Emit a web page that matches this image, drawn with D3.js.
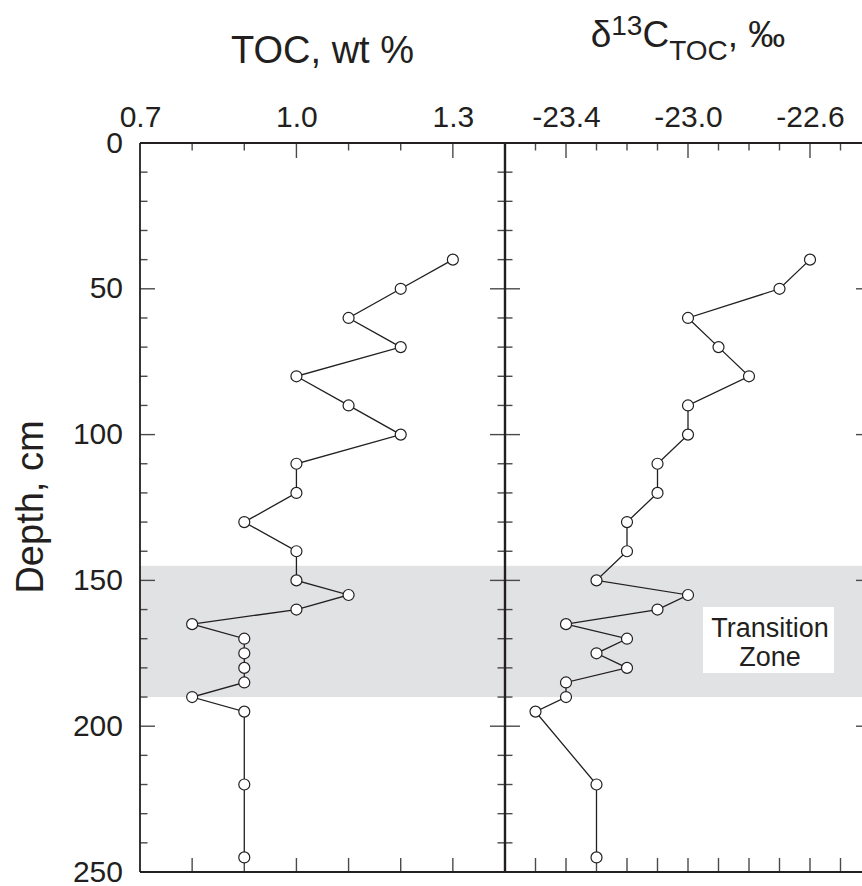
<!DOCTYPE html>
<html>
<head>
<meta charset="utf-8">
<script src="https://cdn.jsdelivr.net/npm/d3@7"></script>
<style>
  body { margin: 0; background: #fff; }
  svg { display: block; font-family: "Liberation Sans", Arial, Helvetica, sans-serif; }
</style>
</head>
<body>
<svg id="chart" width="862" height="886"></svg>
<script>
// ---- data ----
const depth = [40, 50, 60, 70, 80, 90, 100, 110, 120, 130, 140, 150, 155, 160, 165, 170, 175, 180, 185, 190, 195, 220, 245];
const toc   = [1.3, 1.2, 1.1, 1.2, 1.0, 1.1, 1.2, 1.0, 1.0, 0.9, 1.0, 1.0, 1.1, 1.0, 0.8, 0.9, 0.9, 0.9, 0.9, 0.8, 0.9, 0.9, 0.9];
const d13c  = [-22.6, -22.7, -23.0, -22.9, -22.8, -23.0, -23.0, -23.1, -23.1, -23.2, -23.2, -23.3, -23.0, -23.1, -23.4, -23.2, -23.3, -23.2, -23.4, -23.4, -23.5, -23.3, -23.3];
const tocTickLabels = [0.7, 1.0, 1.3];
const d13cTickLabels = [-23.4, -23.0, -22.6];
const depthTickLabels = [0, 50, 100, 150, 200, 250];
const transitionZone = [145, 190];
const tocTitle = "TOC, wt %";
const depthTitle = "Depth, cm";
const zoneLabel = ["Transition", "Zone"];

// ---- layout ----
const svg = d3.select("#chart");
const L = 140, MID = 505, R = 871, T = 143, B = 872;
const frame = "#231f20", tickCol = "#4a4a4a";

const xT = d3.scaleLinear().domain([0.7, 1.4]).range([L, MID]);
const xD = d3.scaleLinear().domain([-23.6, -22.4]).range([MID, R]);
const y  = d3.scaleLinear().domain([0, 250]).range([T, B]);

// shaded transition zone
svg.append("rect")
  .attr("x", L).attr("y", y(transitionZone[0]))
  .attr("width", R - L).attr("height", y(transitionZone[1]) - y(transitionZone[0]))
  .attr("fill", "#e1e2e4");

// ---- ticks ----
const g = svg.append("g").attr("stroke", tickCol).attr("stroke-width", 1.4);
const isMaj = (v, list) => list.some(t => Math.abs(t - v) < 1e-6);

// top/bottom ticks, TOC
xT.ticks(7).filter(v => v > 0.75 && v < 1.35).forEach(v => {
  const len = isMaj(v, tocTickLabels) ? 15 : 7.5;
  g.append("line").attr("x1", xT(v)).attr("x2", xT(v)).attr("y1", T).attr("y2", T + len);
  g.append("line").attr("x1", xT(v)).attr("x2", xT(v)).attr("y1", B).attr("y2", B - 14);
});
// top/bottom ticks, d13C
xD.ticks(12).filter(v => v > -23.55 && v < -22.45).forEach(v => {
  const len = isMaj(v, d13cTickLabels) ? 15 : 7.5;
  g.append("line").attr("x1", xD(v)).attr("x2", xD(v)).attr("y1", T).attr("y2", T + len);
  g.append("line").attr("x1", xD(v)).attr("x2", xD(v)).attr("y1", B).attr("y2", B - 14);
});
// depth ticks
y.ticks(25).filter(v => v > 0 && v < 250).forEach(v => {
  const maj = v % 50 === 0;
  const len = maj ? 15 : 7.5;
  g.append("line").attr("x1", L).attr("x2", L + len).attr("y1", y(v)).attr("y2", y(v));
  g.append("line").attr("x1", MID - len).attr("x2", MID + len).attr("y1", y(v)).attr("y2", y(v));
  g.append("line").attr("x1", R - len).attr("x2", R).attr("y1", y(v)).attr("y2", y(v));
});

// ---- frame ----
const f = svg.append("g").attr("stroke", frame).attr("fill", "none");
f.append("line").attr("x1", L).attr("x2", R).attr("y1", T).attr("y2", T).attr("stroke-width", 2);
f.append("line").attr("x1", L).attr("x2", R).attr("y1", B).attr("y2", B).attr("stroke-width", 2);
f.append("line").attr("x1", L).attr("x2", L).attr("y1", T).attr("y2", B).attr("stroke-width", 1.8);
f.append("line").attr("x1", MID).attr("x2", MID).attr("y1", T).attr("y2", B).attr("stroke-width", 2.4);
f.append("line").attr("x1", R).attr("x2", R).attr("y1", T).attr("y2", B).attr("stroke-width", 2);

// ---- axis labels via d3 axes ----
function styleAxis(sel, size) {
  sel.select(".domain").remove();
  sel.selectAll(".tick line").remove();
  sel.selectAll("text").attr("font-size", size).attr("fill", "#231f20")
     .attr("font-family", '"Liberation Sans", Arial, sans-serif');
}
svg.append("g").attr("transform", `translate(0,${T})`)
  .call(d3.axisTop(xT).tickValues(tocTickLabels).tickSize(0).tickPadding(16).tickFormat(d3.format(".1f")))
  .call(s => styleAxis(s, 30));
svg.append("g").attr("transform", `translate(0,${T})`)
  .call(d3.axisTop(xD).tickValues(d13cTickLabels).tickSize(0).tickPadding(16).tickFormat(d => d3.format(".1f")(d).replace("−", "-")))
  .call(s => styleAxis(s, 30));
svg.append("g").attr("transform", `translate(${L},0)`)
  .call(d3.axisLeft(y).tickValues(depthTickLabels).tickSize(0).tickPadding(17).tickFormat(d3.format("d")))
  .call(s => { styleAxis(s, 30); s.selectAll("text").attr("dy", "0.3em"); });

// ---- titles ----
svg.append("text").attr("x", (L + MID) / 2).attr("y", 62.5)
  .attr("text-anchor", "middle").attr("font-size", 38).attr("fill", "#231f20").text(tocTitle);

const dt = svg.append("text").attr("x", (MID + R) / 2).attr("y", 46.5)
  .attr("text-anchor", "middle").attr("font-size", 37).attr("fill", "#231f20");
dt.append("tspan").text("δ");
dt.append("tspan").attr("font-size", 28).attr("dy", -11.5).text("13");
dt.append("tspan").attr("dy", 11.5).text("C");
dt.append("tspan").attr("font-size", 28).attr("dy", 13.5).text("TOC");
dt.append("tspan").attr("dy", -13.5).text(", ‰");

svg.append("text").attr("transform", `translate(43,507) rotate(-90)`)
  .attr("text-anchor", "middle").attr("font-size", 38).attr("fill", "#231f20").text(depthTitle);

// ---- transition zone label ----
svg.append("rect").attr("x", 703).attr("y", 607).attr("width", 131).attr("height", 66).attr("fill", "#fff");
zoneLabel.forEach((t, i) => {
  svg.append("text").attr("x", 770).attr("y", 636.5 + i * 29)
    .attr("text-anchor", "middle").attr("font-size", 27).attr("fill", "#231f20").text(t);
});

// ---- series ----
const pts = depth.map((d, i) => ({ d, toc: toc[i], c: d13c[i] }));
const lineT = d3.line().x(p => xT(p.toc)).y(p => y(p.d));
const lineD = d3.line().x(p => xD(p.c)).y(p => y(p.d));
svg.append("path").attr("d", lineT(pts)).attr("fill", "none").attr("stroke", frame).attr("stroke-width", 1.3);
svg.append("path").attr("d", lineD(pts)).attr("fill", "none").attr("stroke", frame).attr("stroke-width", 1.3);
svg.append("g").selectAll("circle").data(pts).join("circle")
  .attr("cx", p => xT(p.toc)).attr("cy", p => y(p.d)).attr("r", 5.5)
  .attr("fill", "#fff").attr("stroke", frame).attr("stroke-width", 1.2);
svg.append("g").selectAll("circle").data(pts).join("circle")
  .attr("cx", p => xD(p.c)).attr("cy", p => y(p.d)).attr("r", 5.5)
  .attr("fill", "#fff").attr("stroke", frame).attr("stroke-width", 1.2);
</script>
</body>
</html>
